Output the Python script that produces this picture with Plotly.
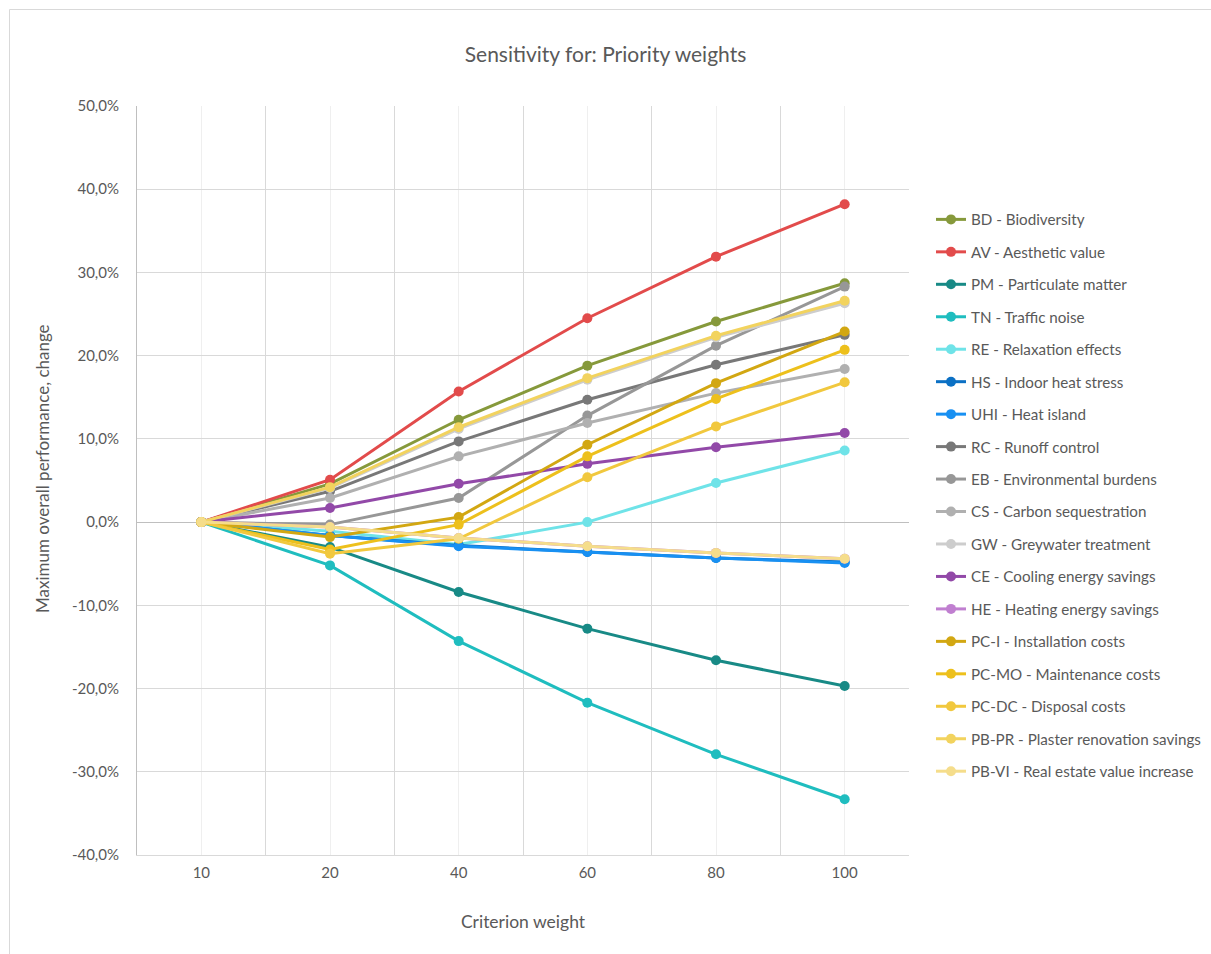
import plotly.graph_objects as go

# Criterion weights (categories on the x axis)
weights = [10, 20, 40, 60, 80, 100]

# Change in maximum overall performance (%) per criterion
bd = [0, 4.6, 12.3, 18.8, 24.1, 28.7]
av = [0, 5.1, 15.7, 24.5, 31.9, 38.2]
pm = [0, -3.0, -8.4, -12.8, -16.6, -19.7]
tn = [0, -5.2, -14.3, -21.7, -27.9, -33.3]
re_ = [0, -1.1, -2.7, 0.0, 4.7, 8.6]
hs = [0, -1.6, -2.8, -3.6, -4.3, -4.8]
uhi = [0, -1.6, -2.9, -3.6, -4.3, -4.9]
rc = [0, 3.7, 9.7, 14.7, 18.9, 22.5]
eb = [0, -0.3, 2.9, 12.8, 21.2, 28.3]
cs = [0, 2.9, 7.9, 11.9, 15.5, 18.4]
gw = [0, 4.1, 11.2, 17.1, 22.2, 26.3]
ce = [0, 1.7, 4.6, 7.0, 9.0, 10.7]
he = [0, -0.6, -1.9, -2.9, -3.7, -4.4]
pc_i = [0, -1.8, 0.6, 9.3, 16.7, 22.9]
pc_mo = [0, -3.3, -0.3, 7.9, 14.8, 20.7]
pc_dc = [0, -3.8, -2.0, 5.4, 11.5, 16.8]
pb_pr = [0, 4.2, 11.4, 17.3, 22.4, 26.6]
pb_vi = [0, -0.6, -1.9, -2.9, -3.7, -4.4]

# Y axis ticks (%)
y_ticks = [-40, -30, -20, -10, 0, 10, 20, 30, 40, 50]
y_tick_labels = [f"{v:.1f}%".replace(".", ",") for v in y_ticks]

series_names = [
    "BD - Biodiversity",
    "AV - Aesthetic value",
    "PM - Particulate matter",
    "TN - Traffic noise",
    "RE - Relaxation effects",
    "HS - Indoor heat stress",
    "UHI - Heat island",
    "RC - Runoff control",
    "EB - Environmental burdens",
    "CS - Carbon sequestration",
    "GW - Greywater treatment",
    "CE - Cooling energy savings",
    "HE - Heating energy savings",
    "PC-I - Installation costs",
    "PC-MO - Maintenance costs",
    "PC-DC - Disposal costs",
    "PB-PR - Plaster renovation savings",
    "PB-VI - Real estate value increase",
]
series_values = [bd, av, pm, tn, re_, hs, uhi, rc, eb, cs, gw, ce, he,
                 pc_i, pc_mo, pc_dc, pb_pr, pb_vi]
series_colors = [
    "#86993B", "#E24B4B", "#188A86", "#1FBDBF", "#6FE3E8", "#0B70C4",
    "#1890F2", "#787878", "#979797", "#B0B0B0", "#CDCDCD", "#9249A8",
    "#C07FD0", "#D2A712", "#EDC01C", "#F1C83E", "#F2D35E", "#F5DD8B",
]

font_family = "Lato, 'Open Sans', sans-serif"
text_grey = "#595959"

x_pos = list(range(len(weights)))

fig = go.Figure()
for i, (name, vals, col) in enumerate(zip(series_names, series_values, series_colors)):
    fig.add_trace(go.Scatter(
        x=x_pos, y=vals, name=name, mode="lines+markers",
        line=dict(color=col, width=3),
        marker=dict(color=col, size=10),
        legendgroup=f"g{i}",
    ))

L, R, T, B = 137, 302, 106, 99
W, H = 1211, 954
pw, ph = W - L - R, H - T - B

def px_x(p):
    return (p - L) / pw

def px_y(p):
    return (H - B - p) / ph

fig.update_layout(
    width=W, height=H,
    margin=dict(l=L, r=R, t=T, b=B, pad=0, autoexpand=False),
    paper_bgcolor="white", plot_bgcolor="white",
    font=dict(family=font_family, color=text_grey, size=15),
    title=dict(text="Sensitivity for: Priority weights", x=0.5, xanchor="center",
               y=1 - 55 / H, yanchor="middle",
               font=dict(size=21, color=text_grey, family=font_family)),
    showlegend=True,
    legend=dict(x=px_x(931), xanchor="left", y=px_y(203), yanchor="top",
                traceorder="grouped", tracegroupgap=9.7,
                font=dict(size=15.2, color=text_grey, family=font_family),
                bgcolor="rgba(0,0,0,0)", itemwidth=30),
    xaxis=dict(
        range=[-0.5, len(weights) - 0.5],
        tickmode="array", tickvals=x_pos, ticktext=[str(w) for w in weights],
        showgrid=True, gridcolor="#EFEFEF", gridwidth=1,
        minor=dict(tickmode="linear", tick0=-0.5, dtick=1, showgrid=True,
                   gridcolor="#D9D9D9", gridwidth=1, ticks=""),
        zeroline=False, showline=True, linecolor="#D9D9D9", linewidth=1,
        ticks="", ticklabelstandoff=4,
        tickfont=dict(size=15, color=text_grey),
        title=dict(text="Criterion weight", standoff=35,
                   font=dict(size=17.5, color=text_grey)),
        fixedrange=True,
    ),
    yaxis=dict(
        range=[-40, 50],
        tickmode="array", tickvals=y_ticks, ticktext=y_tick_labels,
        showgrid=True, gridcolor="#D9D9D9", gridwidth=1,
        zeroline=True, zerolinecolor="#BFBFBF", zerolinewidth=1,
        showline=True, linecolor="#BFBFBF", linewidth=1,
        ticks="", ticklabelstandoff=14,
        tickfont=dict(size=15, color=text_grey),
        fixedrange=True,
    ),
    annotations=[dict(text="Maximum overall performance, change", textangle=-90,
                      xref="paper", yref="paper", x=px_x(42), y=px_y(469),
                      xanchor="center", yanchor="middle", showarrow=False,
                      font=dict(size=17, color=text_grey, family=font_family))],
    shapes=[dict(type="rect", xref="paper", yref="paper",
                 x0=px_x(9.5), x1=px_x(1220), y0=px_y(9.5), y1=px_y(960),
                 line=dict(color="#D9D9D9", width=1), layer="below")],
)

fig.write_html("out.html")
